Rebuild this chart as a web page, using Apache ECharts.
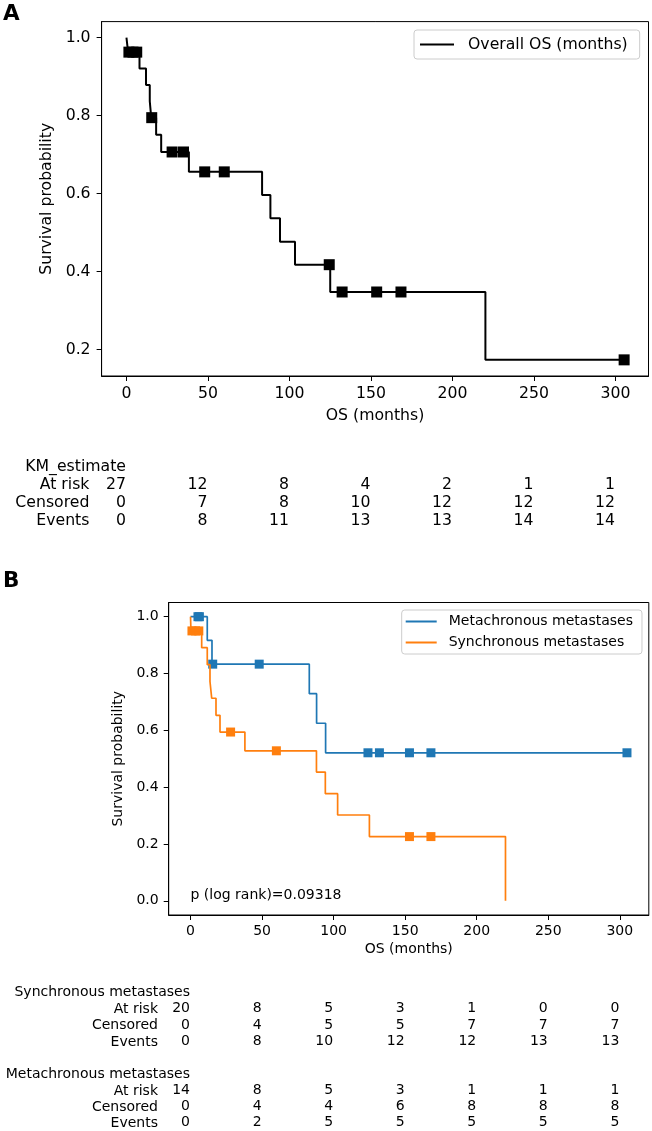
<!DOCTYPE html>
<html>
<head>
<meta charset="utf-8">
<script src="https://cdn.jsdelivr.net/npm/echarts@6/dist/echarts.min.js"></script>
<style>
  html, body { margin: 0; padding: 0; background: #fff; }
  #chart { width: 652px; height: 1131px; }
</style>
</head>
<body>
<div id="chart"></div>
<script>
// --- data ---
const xTicks = [0, 50, 100, 150, 200, 250, 300];

// A: overall KM curve
const overallTimes = [0, 1, 8, 12, 14.3, 15.2, 18.2, 21.3, 38.3, 83.2, 88.3, 94.2, 103.4, 125, 220.2, 305];
const overallSurv = [1.0, 0.963, 0.921, 0.879, 0.837, 0.795, 0.751, 0.707, 0.656, 0.597, 0.537, 0.477, 0.418, 0.348, 0.174, 0.174];
const overallCensT = [1.5, 4, 6.3, 15.5, 28, 35, 48, 60, 124.4, 132.3, 153.5, 168.4, 305.3];
const overallCensS = [0.963, 0.963, 0.963, 0.795, 0.707, 0.707, 0.656, 0.656, 0.418, 0.348, 0.348, 0.348, 0.174];

// B: metachronous / synchronous
const metaTimes = [0, 11.7, 15, 83, 88.1, 94.4, 305];
const metaSurv = [1.0, 0.917, 0.833, 0.729, 0.625, 0.521, 0.521];
const metaCensT = [5.2, 6.2, 15.5, 48, 124, 132, 153, 168, 305];
const metaCensS = [1.0, 1.0, 0.833, 0.833, 0.521, 0.521, 0.521, 0.521, 0.521];

const syncTimes = [0, 0.3, 7.8, 11.7, 13.6, 14.8, 17.8, 20.6, 38, 88, 94.2, 102.8, 125, 220.1];
const syncSurv = [1.0, 0.95, 0.891, 0.831, 0.772, 0.713, 0.653, 0.594, 0.528, 0.453, 0.377, 0.302, 0.226, 0.0];
const syncCensT = [1, 3.5, 5.8, 28, 60, 153, 168];
const syncCensS = [0.95, 0.95, 0.95, 0.594, 0.528, 0.226, 0.226];

// at-risk tables
const rowNames = ["At risk", "Censored", "Events"];
const overallAtRisk = [27, 12, 8, 4, 2, 1, 1];
const overallCensored = [0, 7, 8, 10, 12, 12, 12];
const overallEvents = [0, 8, 11, 13, 13, 14, 14];
const syncAtRisk = [20, 8, 5, 3, 1, 0, 0];
const syncCensored = [0, 4, 5, 5, 7, 7, 7];
const syncEvents = [0, 8, 10, 12, 12, 13, 13];
const metaAtRisk = [14, 8, 5, 3, 1, 1, 1];
const metaCensored = [0, 4, 4, 6, 8, 8, 8];
const metaEvents = [0, 2, 5, 5, 5, 5, 5];

const pValueText = "p (log rank)=0.09318";

// --- helpers ---
const FONT = "DejaVu Sans";
function zip(a, b) { return a.map((v, i) => [v, b[i]]); }
function tableCells(header, rows) {
  const cells = [[0, header, header]];
  rows.forEach((vals, r) => {
    vals.forEach((v, i) => cells.push([xTicks[i], rowNames[r], v]));
  });
  return cells;
}

function chartX(grid, fs, gap, margin) {
  return {
    type: "value", gridIndex: grid, min: -15.25, max: 320.25,
    name: "OS (months)", nameLocation: "middle", nameGap: gap,
    nameTextStyle: { fontSize: fs, color: "#000", fontFamily: FONT },
    axisLine: { show: true, onZero: false, lineStyle: { color: "#000", width: 1 } },
    axisTick: { show: true, length: 5, customValues: xTicks, lineStyle: { color: "#000", width: 1 } },
    axisLabel: { customValues: xTicks, margin: margin, fontSize: fs, color: "#000", fontFamily: FONT },
    splitLine: { show: false }
  };
}
function chartY(grid, min, max, ticks, fs, gap, margin) {
  return {
    type: "value", gridIndex: grid, min: min, max: max,
    name: "Survival probability", nameLocation: "middle", nameGap: gap,
    nameTextStyle: { fontSize: fs, color: "#000", fontFamily: FONT },
    axisLine: { show: true, onZero: false, lineStyle: { color: "#000", width: 1 } },
    axisTick: { show: true, length: 5, customValues: ticks, lineStyle: { color: "#000", width: 1 } },
    axisLabel: { customValues: ticks, margin: margin, fontSize: fs, color: "#000", fontFamily: FONT,
      formatter: v => v.toFixed(1) },
    splitLine: { show: false }
  };
}
function tableX(grid) {
  return { type: "value", gridIndex: grid, min: -15.25, max: 320.25, show: false };
}
function tableY(grid, header, fs, margin) {
  return {
    type: "category", gridIndex: grid, inverse: true,
    data: [header].concat(rowNames),
    axisLine: { show: false }, axisTick: { show: false }, splitLine: { show: false },
    axisLabel: { interval: 0, margin: margin, fontSize: fs, color: "#000", fontFamily: FONT,
      formatter: (v, i) => (i === 0 ? "" : v) }
  };
}
function tableSeries(idx, cells, fs) {
  return {
    type: "scatter", xAxisIndex: idx, yAxisIndex: idx, data: cells,
    symbolSize: 1, itemStyle: { color: "transparent", opacity: 1 }, silent: true,
    label: { show: true, position: [0, 0], align: "right", verticalAlign: "middle",
      fontSize: fs, color: "#000", fontFamily: FONT, formatter: p => String(p.value[2]) }
  };
}
function kmLine(name, times, surv, color, width, xi) {
  return {
    name: name, type: "line", step: "end", xAxisIndex: xi, yAxisIndex: xi,
    data: zip(times, surv), symbol: "none", showSymbol: false, color: color,
    lineStyle: { color: color, width: width }
  };
}
function censors(name, times, surv, color, size, xi) {
  return {
    name: name, type: "scatter", xAxisIndex: xi, yAxisIndex: xi,
    data: zip(times, surv), symbol: "rect", symbolSize: size, itemStyle: { color: color, opacity: 1 }
  };
}

const myChart = echarts.init(document.getElementById("chart"), null, { renderer: "canvas" });

myChart.setOption({
  animation: false,
  textStyle: { fontFamily: FONT },
  grid: [
    { left: 101.6, right: 3.5, top: 21.6, height: 354.4, show: true, borderColor: "#000", borderWidth: 1 },
    { left: 101.6, right: 3.5, top: 458.5, height: 71.6 },
    { left: 168.7, right: 3.2, top: 602.5, height: 312.5, show: true, borderColor: "#000", borderWidth: 1 },
    { left: 168.7, right: 3.2, top: 984.9, height: 65.2 },
    { left: 168.7, right: 3.2, top: 1066.9, height: 65.2 }
  ],
  xAxis: [chartX(0, 15.7, 32, 10), tableX(1), chartX(2, 14, 27, 9), tableX(3), tableX(4)],
  yAxis: [
    chartY(0, 0.1326, 1.0413, [0.2, 0.4, 0.6, 0.8, 1.0], 15.7, 46, 11),
    tableY(1, "KM_estimate", 15.7, 12.2),
    chartY(2, -0.05, 1.05, [0, 0.2, 0.4, 0.6, 0.8, 1.0], 14, 40, 10),
    tableY(3, "Synchronous metastases", 14, 10.7),
    tableY(4, "Metachronous metastases", 14, 10.7)
  ],
  legend: [
    {
      data: ["Overall OS (months)"], left: 414, top: 30, selectedMode: false,
      icon: "rect", itemWidth: 34, itemHeight: 2,
      padding: [5, 12, 5, 6], borderColor: "#cccccc", borderWidth: 1, borderRadius: 3,
      backgroundColor: "rgba(255,255,255,0.8)",
      textStyle: { fontSize: 15.7, color: "#000", fontFamily: FONT, lineHeight: 19, padding: [0, 0, 0, 9] }
    },
    {
      data: ["Metachronous metastases", "Synchronous metastases"], left: 401.7, top: 610,
      orient: "vertical", selectedMode: false, itemGap: 4,
      icon: "rect", itemWidth: 31, itemHeight: 2,
      padding: [3, 9, 3, 4], borderColor: "#cccccc", borderWidth: 1, borderRadius: 3,
      backgroundColor: "rgba(255,255,255,0.8)",
      textStyle: { fontSize: 14, color: "#000", fontFamily: FONT, lineHeight: 17, padding: [0, 0, 0, 7] }
    }
  ],
  graphic: [
    { type: "text", left: 3, top: 3, style: { text: "A", fontSize: 21.5, fontWeight: "bold", fontFamily: FONT, fill: "#000" } },
    { type: "text", left: 3, top: 570, style: { text: "B", fontSize: 21.5, fontWeight: "bold", fontFamily: FONT, fill: "#000" } },
    { type: "text", left: 190.5, top: 888, style: { text: pValueText, fontSize: 14, fontFamily: FONT, fill: "#000" } }
  ],
  series: [
    kmLine("Overall OS (months)", overallTimes, overallSurv, "#000000", 2, 0),
    censors("overall censored", overallCensT, overallCensS, "#000000", 11, 0),
    kmLine("Metachronous metastases", metaTimes, metaSurv, "#1f77b4", 1.7, 2),
    censors("meta censored", metaCensT, metaCensS, "#1f77b4", 9, 2),
    kmLine("Synchronous metastases", syncTimes, syncSurv, "#ff7f0e", 1.7, 2),
    censors("sync censored", syncCensT, syncCensS, "#ff7f0e", 9, 2),
    tableSeries(1, tableCells("KM_estimate", [overallAtRisk, overallCensored, overallEvents]), 15.7),
    tableSeries(3, tableCells("Synchronous metastases", [syncAtRisk, syncCensored, syncEvents]), 14),
    tableSeries(4, tableCells("Metachronous metastases", [metaAtRisk, metaCensored, metaEvents]), 14)
  ]
});
</script>
</body>
</html>
